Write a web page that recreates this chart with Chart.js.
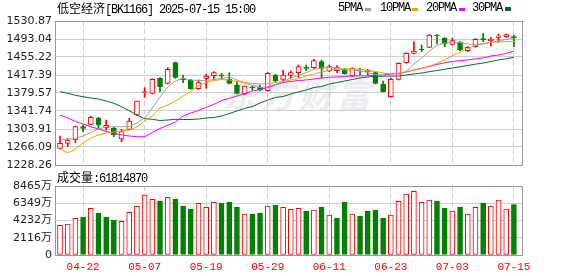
<!DOCTYPE html>
<html>
<head>
<meta charset="utf-8">
<script src="https://cdn.jsdelivr.net/npm/chart.js@4"></script>
<style>
html, body { margin: 0; padding: 0; background: #fff; }
#wrap { position: relative; width: 578px; height: 276px; overflow: hidden; }
.txt { position: absolute; font-family: "Liberation Mono", monospace; font-size: 12px; line-height: 12px; letter-spacing: -1.2px; white-space: nowrap; color: #000; z-index: 3; }
.cjk { font-family: "Noto Sans CJK SC", sans-serif; letter-spacing: 0; }
.sw { position: absolute; width: 6px; height: 3px; z-index: 3; }
#wm { position: absolute; left: 226px; top: 76px; font-family: "Noto Sans CJK SC", sans-serif; font-weight: bold; font-size: 34px; line-height: 36px; letter-spacing: 4px; color: #ececf1; transform: skewX(-14deg); z-index: 0; }
canvas { position: absolute; left: 0; z-index: 1; }
#priceChart { top: 0; }
#volChart { top: 176px; }
</style>
</head>
<body>
<div id="wrap">
  <div id="wm">东方财富</div>
  <canvas id="priceChart" width="578" height="176"></canvas>
  <canvas id="volChart" width="578" height="100"></canvas>
  <div class="txt" style="left:57px;top:2px;"><span class="cjk">低空经济</span>[BK1166] 2025-07-15 15:00</div>
  <div class="txt" style="left:338px;top:2px;">5PMA</div>
  <div class="sw" style="left:365px;top:8px;background:#a0a0a0;"></div>
  <div class="txt" style="left:380px;top:2px;">10PMA</div>
  <div class="sw" style="left:412px;top:8px;background:#f5a000;"></div>
  <div class="txt" style="left:426px;top:2px;">20PMA</div>
  <div class="sw" style="left:459px;top:8px;background:#ff00ff;"></div>
  <div class="txt" style="left:472px;top:2px;">30PMA</div>
  <div class="sw" style="left:505px;top:7px;height:4px;background:#006b30;"></div>
  <div class="txt" id="volTitle" style="left:57px;top:171px;"></div>
</div>
<script>
// trading days shown
const dates = ['04-17','04-18','04-21','04-22','04-23','04-24','04-25','04-28','04-29','04-30',
  '05-06','05-07','05-08','05-09','05-12','05-13','05-14','05-15','05-16','05-19',
  '05-20','05-21','05-22','05-23','05-26','05-27','05-28','05-29','05-30','06-03',
  '06-04','06-05','06-06','06-09','06-10','06-11','06-12','06-13','06-16','06-17',
  '06-18','06-19','06-20','06-23','06-24','06-25','06-26','06-27','06-30','07-01',
  '07-02','07-03','07-04','07-07','07-08','07-09','07-10','07-11','07-14','07-15'];

const openP = [1263.3,1273.8,1280.8,1308.8,1313.7,1326.4,1306.7,1305.3,1282.9,1303.2,
  1333.4,1381.0,1378.9,1410.4,1399.9,1443.3,1409.7,1406.9,1388.7,1410.4,
  1416.0,1417.4,1408.3,1396.4,1377.5,1391.5,1392.2,1384.5,1417.4,1408.3,
  1416.7,1422.3,1433.5,1432.8,1445.4,1426.5,1426.5,1429.3,1415.3,1430.0,
  1424.4,1422.3,1398.5,1371.9,1408.3,1443.3,1463.0,1472.1,1475.6,1501.5,
  1494.5,1481.9,1486.1,1468.6,1477.0,1493.8,1489.6,1496.6,1498.0,1498.0];
const highP = [1289.2,1284.3,1310.2,1312.3,1330.6,1328.5,1322.9,1307.4,1303.2,1326.4,
  1362.8,1390.8,1409.7,1411.8,1432.8,1444.7,1417.4,1408.3,1406.9,1418.8,
  1424.4,1420.9,1422.3,1404.8,1394.3,1394.3,1395.7,1422.3,1418.8,1427.9,
  1425.8,1438.4,1438.4,1450.3,1448.9,1438.4,1437.0,1431.4,1432.8,1431.4,
  1429.3,1424.4,1404.8,1410.4,1443.3,1464.4,1487.5,1480.5,1502.9,1502.2,
  1495.9,1494.5,1487.5,1477.0,1493.8,1505.0,1496.6,1503.6,1503.6,1501.5];
const lowP = [1261.9,1266.8,1275.2,1298.3,1313.0,1305.3,1301.8,1287.8,1277.3,1301.8,
  1332.0,1370.5,1377.5,1382.4,1398.5,1410.4,1401.3,1387.3,1387.3,1389.4,
  1408.3,1408.3,1398.5,1377.5,1376.1,1385.9,1383.8,1383.1,1403.4,1405.5,
  1410.4,1412.5,1426.5,1431.4,1410.4,1424.4,1422.3,1418.8,1414.6,1417.4,
  1417.4,1398.5,1381.7,1370.5,1406.9,1441.9,1461.6,1466.5,1474.9,1482.6,
  1477.0,1480.5,1468.6,1466.5,1475.6,1487.5,1478.4,1486.1,1496.6,1477.0];
const closeP = [1273.8,1280.8,1308.8,1305.3,1328.5,1312.3,1311.5,1291.3,1298.3,1320.8,
  1362.8,1382.4,1408.3,1392.9,1429.3,1412.5,1406.9,1388.7,1401.3,1415.3,
  1422.3,1416.0,1399.9,1378.9,1394.3,1390.1,1386.6,1420.9,1405.5,1417.4,
  1422.3,1434.9,1431.4,1447.5,1431.4,1434.9,1432.8,1419.5,1431.4,1428.6,
  1427.9,1399.9,1382.4,1408.3,1441.9,1463.0,1467.9,1470.7,1501.5,1500.1,
  1482.6,1489.6,1470.0,1475.6,1492.4,1491.8,1492.4,1499.4,1502.2,1495.9];

// volume in 万 (10k shares)
const volume = [3644,3804,4503,4663,5730,5153,4663,4295,4135,5239,
  5975,7362,6834,6626,7080,6871,6012,5644,6344,5853,
  6466,6380,6503,5890,5031,5031,5153,6012,6135,5853,
  5607,5730,5399,5522,5890,4908,4540,6503,5031,4785,
  5399,5522,4540,4908,6589,7485,7816,6466,6749,6626,
  5767,5399,5890,5031,5853,6380,6012,6749,5644,6181.487];

const ma5 = [1280.8,1282.9,1284.0,1289.2,1296.6,1303.9,1308.1,1308.7,1308.7,1309.2,
  1316.5,1327.0,1348.0,1371.1,1392.2,1404.8,1410.5,1406.9,1405.8,1405.8,
  1407.9,1410.0,1413.2,1406.9,1400.6,1395.3,1391.1,1393.2,1397.4,1403.7,
  1411.1,1416.3,1422.6,1428.9,1432.1,1433.8,1432.1,1428.9,1427.9,1425.8,
  1422.6,1418.4,1416.3,1413.2,1417.4,1424.7,1440.5,1453.1,1467.8,1479.4,
  1484.6,1486.3,1485.7,1482.5,1481.5,1482.5,1485.7,1489.5,1492.0,1493.7];
const ma10 = [1261.9,1253.5,1261.9,1274.5,1285.0,1291.3,1295.5,1297.6,1299.7,1301.8,
  1308.1,1320.7,1331.2,1348.0,1354.3,1362.7,1373.3,1382.7,1394.3,1401.6,
  1405.8,1407.9,1406.9,1403.7,1401.6,1399.5,1398.5,1399.5,1401.6,1403.7,
  1406.9,1410.0,1415.3,1419.5,1423.7,1427.3,1429.4,1430.0,1430.6,1428.9,
  1426.8,1424.7,1421.6,1419.5,1420.5,1424.7,1427.9,1431.0,1436.3,1441.6,
  1448.9,1457.3,1465.7,1473.1,1479.4,1483.6,1485.7,1486.7,1487.8,1488.2];
const ma20 = [1333.3,1327.0,1319.7,1314.4,1308.7,1303.9,1298.7,1295.5,1291.3,1289.2,
  1287.7,1287.7,1296.6,1305.0,1311.7,1318.6,1331.2,1337.5,1342.8,1349.5,
  1355.4,1363.8,1368.0,1373.3,1378.5,1383.8,1386.9,1391.1,1396.4,1401.6,
  1403.7,1405.8,1406.9,1409.0,1411.1,1412.6,1413.2,1414.2,1415.3,1415.3,
  1415.9,1416.8,1417.4,1419.5,1421.0,1423.7,1427.9,1431.5,1435.3,1439.5,
  1443.0,1445.8,1447.4,1449.3,1451.4,1453.5,1457.3,1459.4,1462.6,1467.8];
const ma30 = [1382.3,1379.0,1374.7,1371.8,1369.1,1367.0,1362.8,1357.9,1350.8,1342.4,
  1333.3,1325.6,1324.3,1321.8,1322.8,1324.3,1323.9,1323.9,1324.9,1327.0,
  1328.1,1331.2,1336.5,1341.7,1347.0,1351.2,1358.5,1364.9,1370.1,1372.2,
  1377.5,1381.7,1385.9,1391.1,1393.2,1398.5,1401.6,1404.8,1407.9,1411.1,
  1413.2,1414.7,1414.9,1415.1,1415.3,1417.4,1419.5,1421.6,1424.3,1426.8,
  1429.4,1432.1,1434.6,1437.4,1440.1,1442.6,1445.8,1448.9,1451.6,1454.6];

const priceTicks = [1228.26,1266.09,1303.91,1341.74,1379.57,1417.39,1455.22,1493.04,1530.87];
const volTicks = [0, 2116.25, 4232.5, 6348.75, 8465];
const volTickLabels = ['0','2116万','4232万','6349万','8465万'];
const xTickIndex = [3, 11, 19, 27, 35, 43, 51, 59];

const RED = '#ff0000';
const GREEN = '#008000';
const GRID = '#cfcfcf';

const up = closeP.map((c, i) => c >= openP[i]);
const volUp = closeP.map((c, i) => i === 0 ? c >= openP[0] : c >= closeP[i - 1]);

document.getElementById('volTitle').innerHTML =
  '<span class="cjk">成交量</span>:' + Math.round(volume[volume.length - 1] * 10000);

const frame = {
  id: 'frame',
  afterDatasetsDraw(chart) {
    const { ctx, chartArea: a } = chart;
    ctx.save();
    ctx.strokeStyle = '#999';
    ctx.lineWidth = 1;
    ctx.strokeRect(Math.round(a.left) + 0.5, Math.round(a.top) + 0.5,
      Math.round(a.right - a.left), Math.round(a.bottom - a.top));
    ctx.restore();
  }
};

function xAxis(showLabels) {
  return {
    type: 'linear',
    offset: false,
    min: -0.65,
    max: 60.05,
    afterBuildTicks: s => { s.ticks = xTickIndex.map(v => ({ value: v })); },
    afterFit: s => { s.height = showLabels ? 21 : 0; },
    grid: { color: GRID, lineWidth: 1, drawTicks: false, offset: false },
    border: { display: false, dash: [5, 3] },
    ticks: showLabels ? {
      padding: 5,
      color: RED,
      maxRotation: 0,
      autoSkip: false,
      font: { family: 'Liberation Mono', size: 11 },
      callback: v => dates[v]
    } : { display: false }
  };
}

const lineDs = (data, color, order) => ({
  type: 'line',
  data: data.map((v, i) => ({ x: i, y: v })),
  borderColor: color,
  borderWidth: 1,
  pointRadius: 0,
  tension: 0,
  order: order
});

new Chart(document.getElementById('priceChart'), {
  type: 'bar',
  data: {
    datasets: [
      {
        data: dates.map((d, i) => ({ x: i, y: [lowP[i], highP[i]] })),
        backgroundColor: up.map(u => u ? RED : GREEN),
        grouped: false,
        barThickness: 1,
        maxBarThickness: 1,
        order: 6
      },
      {
        data: dates.map((d, i) => ({ x: i, y: [openP[i], closeP[i]] })),
        backgroundColor: up.map(u => u ? '#ffffff' : GREEN),
        borderColor: up.map(u => u ? RED : GREEN),
        borderWidth: 1,
        borderSkipped: false,
        grouped: false,
        barThickness: 5,
        maxBarThickness: 5,
        order: 5
      },
      lineDs(ma30, '#006b30', 4),
      lineDs(ma20, '#ff00ff', 3),
      lineDs(ma10, '#f5a000', 2),
      lineDs(ma5, '#a0a0a0', 1)
    ]
  },
  options: {
    responsive: false,
    animation: false,
    devicePixelRatio: 1,
    layout: { padding: { left: 0, right: 56, top: 21, bottom: 11 } },
    plugins: { legend: { display: false }, tooltip: { enabled: false } },
    scales: {
      x: xAxis(false),
      y: {
        min: priceTicks[0],
        max: priceTicks[priceTicks.length - 1],
        afterBuildTicks: s => { s.ticks = priceTicks.map(v => ({ value: v })); },
        afterFit: s => { s.width = 55; },
        grid: { color: GRID, drawTicks: false },
        border: { display: false },
        ticks: {
          padding: 3,
          color: '#222',
          font: { family: 'DejaVu Sans', size: 11 },
          callback: v => v.toFixed(2)
        }
      }
    }
  },
  plugins: [frame]
});

new Chart(document.getElementById('volChart'), {
  type: 'bar',
  data: {
    datasets: [{
      data: dates.map((d, i) => ({ x: i, y: volume[i] })),
      backgroundColor: volUp.map(u => u ? '#ffffff' : GREEN),
      borderColor: volUp.map(u => u ? RED : GREEN),
      borderWidth: 1,
      borderSkipped: false,
      grouped: false,
      barThickness: 5,
      maxBarThickness: 5
    }]
  },
  options: {
    responsive: false,
    animation: false,
    devicePixelRatio: 1,
    layout: { padding: { left: 0, right: 56, top: 10, bottom: 0 } },
    plugins: { legend: { display: false }, tooltip: { enabled: false } },
    scales: {
      x: xAxis(true),
      y: {
        min: 0,
        max: volTicks[volTicks.length - 1],
        afterBuildTicks: s => { s.ticks = volTicks.map(v => ({ value: v })); },
        afterFit: s => { s.width = 55; },
        grid: { color: GRID, drawTicks: false },
        border: { display: false },
        ticks: {
          padding: 3,
          color: '#222',
          font: { family: "'DejaVu Sans', 'Noto Sans CJK SC'", size: 11 },
          callback: (v, i) => volTickLabels[i]
        }
      }
    }
  },
  plugins: [frame]
});
</script>
</body>
</html>
